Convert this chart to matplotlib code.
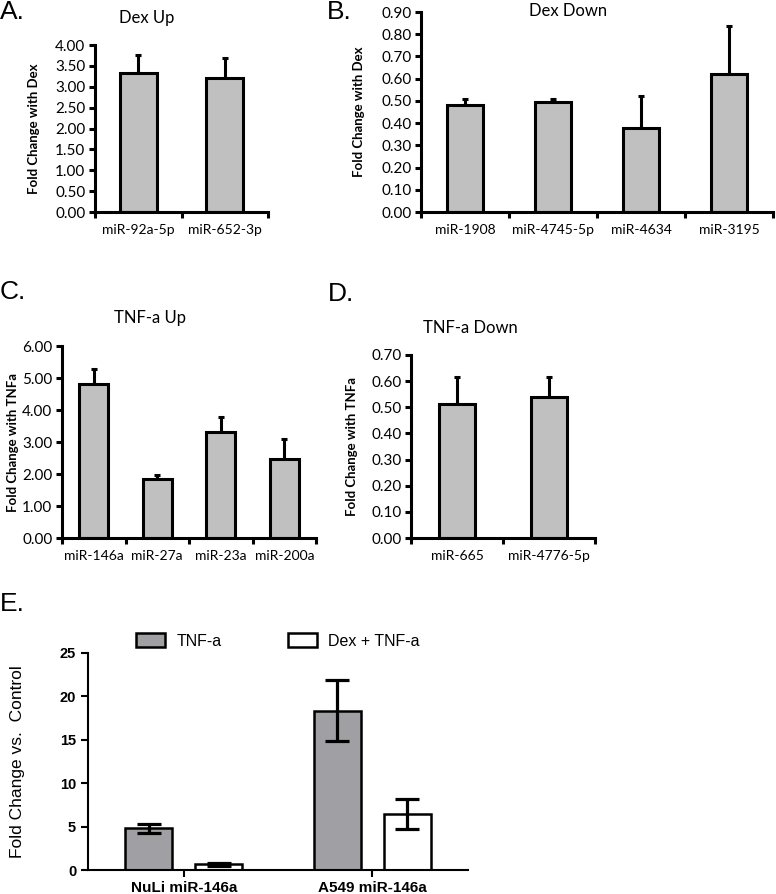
import numpy as np
import matplotlib
matplotlib.use("Agg")
import matplotlib.pyplot as plt
from matplotlib.patches import Patch

W, H = 776, 894

# panel A - Dex up
dex_up_labels = ["miR-92a-5p", "miR-652-3p"]
dex_up_vals = [3.34, 3.20]
dex_up_err = [0.42, 0.48]

# panel B - Dex down
dex_down_labels = ["miR-1908", "miR-4745-5p", "miR-4634", "miR-3195"]
dex_down_vals = [0.483, 0.495, 0.378, 0.622]
dex_down_err = [0.027, 0.013, 0.142, 0.213]

# panel C - TNF-a up
tnf_up_labels = ["miR-146a", "miR-27a", "miR-23a", "miR-200a"]
tnf_up_vals = [4.80, 1.83, 3.32, 2.46]
tnf_up_err = [0.49, 0.15, 0.46, 0.62]

# panel D - TNF-a down
tnf_down_labels = ["miR-665", "miR-4776-5p"]
tnf_down_vals = [0.512, 0.538]
tnf_down_err = [0.103, 0.077]

# panel E
e_groups = ["NuLi miR-146a", "A549 miR-146a"]
e_tnf = [4.8, 18.35]
e_tnf_err = [0.55, 3.5]
e_dex = [0.65, 6.45]
e_dex_err = [0.2, 1.7]

fig = plt.figure(figsize=(W / 100, H / 100), dpi=100)


def px_axes(x0, x1, ytop, ybot):
    return fig.add_axes([x0 / W, 1 - ybot / H, (x1 - x0) / W, (ybot - ytop) / H])


def small_panel(ax, labels, vals, errs, ymax, ystep, ylabel, ylab_x, width):
    n = len(labels)
    x = np.arange(n)
    ax.bar(x, vals, width=width, color="#c0c0c0", edgecolor="black", linewidth=2.2, zorder=2)
    ax.errorbar(x, vals, yerr=[np.zeros(n), errs], fmt="none", ecolor="black",
                elinewidth=2.2, capsize=2.2, capthick=2.2, zorder=1)
    ax.set_xlim(-0.5, n - 0.5)
    ax.set_ylim(0, ymax)
    yt = np.arange(0, ymax + ystep / 2, ystep)
    ax.set_yticks(yt)
    ax.set_yticklabels([f"{v:.2f}" for v in yt], family="Lato", fontsize=11)
    ax.set_xticks(x)
    ax.set_xticklabels(labels, family="Lato", fontsize=10)
    ax.set_xticks(np.arange(-0.5, n, 1.0), minor=True)
    ax.tick_params(axis="x", which="major", length=0, pad=9)
    ax.tick_params(axis="x", which="minor", length=4, width=2.2, direction="out")
    ax.tick_params(axis="y", length=4, width=2.2, direction="out", pad=3)
    for s in ["top", "right"]:
        ax.spines[s].set_visible(False)
    for s in ["left", "bottom"]:
        ax.spines[s].set_linewidth(2.2)
    ax.set_ylabel(ylabel, family="Lato", fontweight="bold", fontsize=9.5)
    bb = ax.get_position()
    ax.yaxis.set_label_coords((ylab_x / W - bb.x0) / bb.width, 0.5)


axA = px_axes(95, 268, 45, 212)
small_panel(axA, dex_up_labels, dex_up_vals, dex_up_err, 4.0, 0.5,
            "Fold Change with Dex", 40, 0.43)
axB = px_axes(421, 773, 12, 212)
small_panel(axB, dex_down_labels, dex_down_vals, dex_down_err, 0.9, 0.1,
            "Fold Change with Dex", 365, 0.42)
axC = px_axes(62, 316, 346, 538)
small_panel(axC, tnf_up_labels, tnf_up_vals, tnf_up_err, 6.0, 1.0,
            "Fold Change with TNFa", 19, 0.45)
axD = px_axes(411, 595, 355, 538)
small_panel(axD, tnf_down_labels, tnf_down_vals, tnf_down_err, 0.7, 0.1,
            "Fold Change with TNFa", 358, 0.40)

# panel titles
for txt, xc, yc in [("Dex Up", 147, 18), ("Dex Down", 568, 11),
                    ("TNF-a Up", 150, 318), ("TNF-a Down", 470, 328)]:
    fig.text(xc / W, 1 - yc / H, txt, family="Lato", fontsize=12,
             ha="center", va="center")

# panel letters
for txt, xl, yc in [("A.", 0, 12), ("B.", 327, 12), ("C.", 0, 292),
                    ("D.", 328, 294), ("E.", 0, 604)]:
    fig.text(xl / W, 1 - yc / H, txt, family="Liberation Sans", fontsize=19,
             ha="left", va="center")

# panel E
axE = px_axes(88, 468, 653, 870)
xg = np.arange(len(e_groups))
off = 0.186
bw = 0.25
axE.bar(xg - off, e_tnf, width=bw, color="#a0a0a4", edgecolor="black", linewidth=1.8, zorder=2)
axE.bar(xg + off, e_dex, width=bw, color="white", edgecolor="black", linewidth=1.8, zorder=2)
axE.errorbar(xg - off, e_tnf, yerr=e_tnf_err, fmt="none", ecolor="black",
             elinewidth=2.3, capsize=8.5, capthick=2.3, zorder=3)
axE.errorbar(xg + off, e_dex, yerr=e_dex_err, fmt="none", ecolor="black",
             elinewidth=2.3, capsize=8.5, capthick=2.3, zorder=3)
axE.set_xlim(-0.51, 1.51)
axE.set_ylim(0, 25)
axE.set_yticks([0, 5, 10, 15, 20, 25])
axE.set_yticklabels(["0", "5", "10", "15", "20", "25"], family="Liberation Sans",
                    fontweight="bold", fontsize=10.5)
axE.set_xticks(xg)
axE.set_xticklabels(e_groups, family="Liberation Sans", fontweight="bold", fontsize=11)
axE.tick_params(axis="both", length=5, width=1.5, direction="out")
axE.tick_params(axis="x", pad=3)
for s in ["top", "right"]:
    axE.spines[s].set_visible(False)
for s in ["left", "bottom"]:
    axE.spines[s].set_linewidth(1.5)
axE.set_ylabel("Fold Change vs.  Control", family="Liberation Sans", fontsize=12.5)
bb = axE.get_position()
axE.yaxis.set_label_coords((25 / W - bb.x0) / bb.width, 0.5)

handles = [Patch(facecolor="#a0a0a4", edgecolor="black", linewidth=1.8),
           Patch(facecolor="white", edgecolor="black", linewidth=1.8)]
fig.legend(handles, ["TNF-a", "Dex + TNF-a"], ncol=2, frameon=False,
           loc="center", bbox_to_anchor=(278 / W, 1 - 641 / H),
           prop={"family": "Liberation Sans", "size": 11.5},
           handlelength=1.8, handleheight=0.9, handletextpad=0.7, columnspacing=4.2)

fig.savefig("out.png", dpi=100)
